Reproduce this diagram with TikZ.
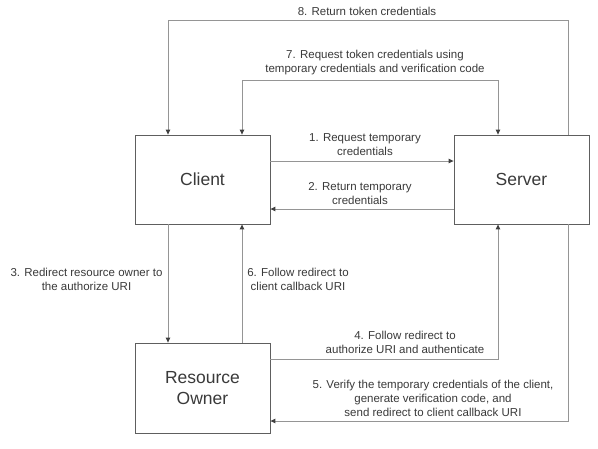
\documentclass[tikz,border=0pt]{standalone}
\usepackage{fontspec}
\setmainfont{Liberation Sans}
\usetikzlibrary{arrows.meta}
\definecolor{linegrey}{HTML}{959595}
\definecolor{boxgrey}{HTML}{5E5E5E}
\definecolor{textgrey}{HTML}{3A3A3A}
\tikzset{
  party/.style={draw=boxgrey, line width=0.8pt, minimum width=135pt, minimum height=89pt,
    inner sep=0pt, align=center, text=textgrey, font=\fontsize{17.5}{21}\selectfont},
  conn/.style={draw=linegrey, line width=0.9pt, -{Triangle[length=5pt,width=4.5pt,color=black!75]}},
  bothconn/.style={draw=linegrey, line width=0.9pt, {Triangle[length=5pt,width=4.5pt,color=black!75]}-{Triangle[length=5pt,width=4.5pt,color=black!75]}},
  lbl/.style={text=textgrey, align=center, inner sep=0pt, font=\fontsize{11.5}{14}\selectfont}
}
\begin{document}
\begin{tikzpicture}[x=1pt,y=-1pt]
\path[use as bounding box, fill=white] (0,0) rectangle (598,448);

\node[party] (client) at (202.5,179.5) {Client};
\node[party] (server) at (521.5,179.5) {Server};
\node[party, minimum height=90pt] (ro) at (202.5,388) {Resource\\Owner};

\coordinate (c8) at (568,20);
\coordinate (c7) at (242,80);

% 8
\draw[conn] ([xshift=46.5pt]server.north) |- (c8) -| ([xshift=-34.5pt]client.north);
% 7
\draw[bothconn] ([xshift=39.5pt]client.north) |- (c7) -| ([xshift=-23.5pt]server.north);
% 1
\draw[conn] ([yshift=18.5pt]client.east) -- ([yshift=18.5pt]server.west);
% 2
\draw[conn] ([yshift=-29.5pt]server.west) -- ([yshift=-29.5pt]client.east);
% 3
\draw[conn] ([xshift=-34.5pt]client.south) -- ([xshift=-34.5pt]ro.north);
% 6
\draw[conn] ([xshift=39.5pt]ro.north) -- ([xshift=39.5pt]client.south);
% 4
\draw[conn] ([yshift=29pt]ro.east) -| ([xshift=-23.5pt]server.south);
% 5
\draw[conn] ([xshift=46.5pt]server.south) |- ([yshift=-33pt]ro.east);

\node[lbl] (l8) at (367,11) {8. Return token credentials};
\node[lbl] (l7) at (375,63) {7. Request token credentials using\\temporary credentials and verification code};
\node[lbl] (l1) at (365,145) {1. Request temporary\\credentials};
\node[lbl] (l2) at (360,193.5) {2. Return temporary\\credentials};
\node[lbl] (l3) at (86.5,279) {3. Redirect resource owner to\\the authorize URI};
\node[lbl] (l6) at (298,279) {6. Follow redirect to\\client callback URI};
\node[lbl] (l4) at (405,342) {4. Follow redirect to\\authorize URI and authenticate};
\node[lbl] (l5) at (433,398.5) {5. Verify the temporary credentials of the client,\\generate verification code, and\\send redirect to client callback URI};
\end{tikzpicture}
\end{document}
